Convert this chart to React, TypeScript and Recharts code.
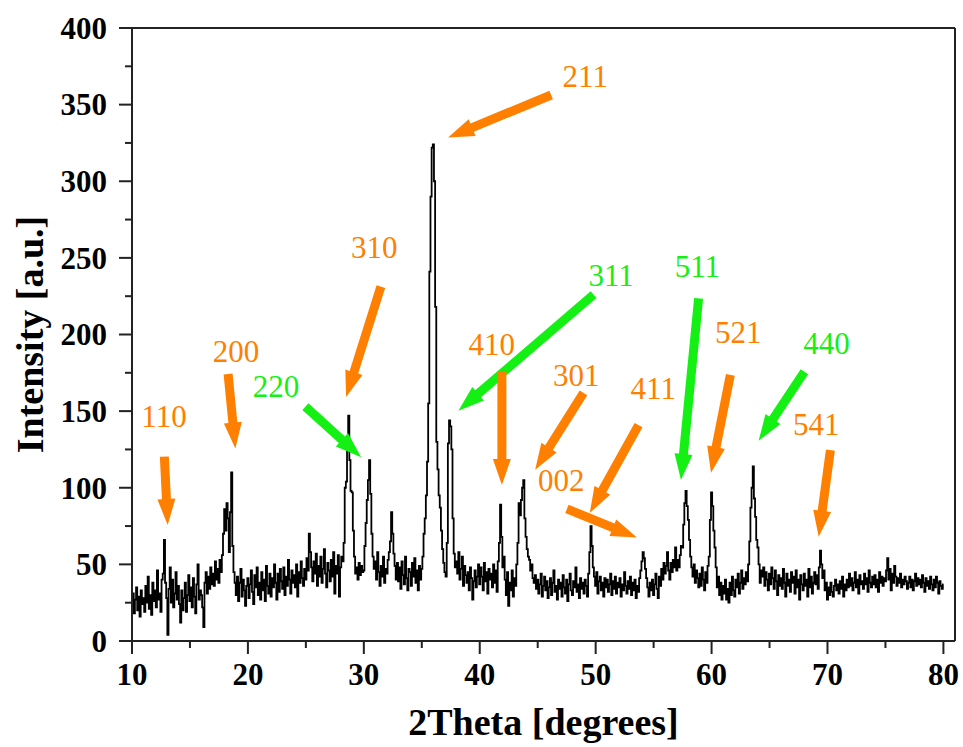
import { LineChart, Line, XAxis, YAxis, ReferenceLine, ReferenceDot, Label } from "recharts"

// XRD scan, 10..80 deg in 0.1 deg steps (one row per degree)
const startAngle = 10
const angleStep = 0.1
const intensity = [
  22, 31, 18, 27, 35, 20, 29, 16, 33, 24,
  28, 19, 36, 25, 42, 21, 30, 17, 38, 26,
  33, 22, 46, 27, 31, 19, 40, 44, 66, 38,
  28, 4, 34, 48, 25, 40, 22, 31, 45, 27,
  36, 24, 12, 33, 20, 28, 38, 19, 30, 43,
  26, 35, 22, 41, 29, 18, 37, 50, 27, 33,
  30, 22, 9, 38, 45, 31, 42, 34, 48, 37,
  44, 36, 52, 40, 47, 38, 53, 45, 56, 70,
  86, 72, 90, 80, 58, 84, 110, 62, 45, 38,
  30, 42, 26, 38, 47, 29, 40, 33, 23, 36,
  41, 28, 37, 46, 32, 24, 43, 35, 48, 30,
  38, 27, 45, 33, 40, 26, 49, 36, 31, 44,
  29, 41, 35, 50, 38, 27, 44, 32, 47, 39,
  34, 48, 30, 42, 36, 53, 40, 31, 46, 38,
  43, 35, 50, 29, 45, 38, 52, 41, 36, 47,
  40, 54, 46, 70, 58, 48, 39, 52, 44, 57,
  36, 49, 42, 55, 38, 47, 60, 44, 35, 51,
  46, 39, 53, 42, 58, 31, 49, 44, 56, 29,
  48, 55, 52, 64, 100, 104, 124, 147, 118, 98,
  97, 72, 55, 44, 48, 40, 51, 43, 49, 45,
  46, 62, 77, 92, 105, 118, 96, 70, 55, 47,
  52, 40, 58, 45, 36, 49, 42, 55, 38, 47,
  44, 53, 58, 65, 84, 70, 57, 49, 40, 51,
  39, 48, 34, 52, 43, 37, 55, 41, 33, 47,
  45, 36, 51, 42, 54, 38, 46, 33, 49, 40,
  47, 55, 70, 80, 95, 117, 155, 241, 290, 322,
  324, 300, 218, 130, 112, 95, 87, 72, 60, 51,
  45, 42, 64, 129, 144, 140, 125, 80, 57, 48,
  52, 44, 58, 40, 47, 55, 36, 49, 43, 38,
  45, 33, 48, 41, 27, 39, 46, 35, 42, 50,
  37, 48, 42, 33, 51, 39, 45, 31, 47, 40,
  44, 35, 50, 38, 46, 32, 52, 64, 89, 68,
  48, 55, 40, 30, 45, 23, 38, 33, 46, 29,
  41, 36, 50, 64, 90, 82, 92, 100, 105, 80,
  68, 60, 55, 53, 46, 50, 41, 38, 43, 34,
  40, 31, 37, 44, 29, 36, 42, 33, 39, 28,
  35, 41, 30, 38, 46, 32, 36, 27, 40, 34,
  38, 29, 43, 35, 31, 40, 26, 37, 44, 33,
  30, 39, 35, 48, 32, 37, 28, 41, 34, 38,
  31, 40, 36, 29, 44, 58, 75, 62, 48, 42,
  36, 45, 31, 39, 42, 33, 38, 29, 41, 35,
  40, 32, 37, 44, 30, 39, 34, 42, 31, 38,
  35, 41, 29, 37, 33, 45, 36, 31, 39, 34,
  42, 30, 38, 33, 40, 28, 36, 32, 41, 46,
  52, 58, 54, 47, 41, 35, 29, 38, 33, 40,
  30, 37, 44, 34, 28, 42, 36, 47, 40, 51,
  44, 49, 58, 46, 40, 51, 45, 53, 48, 61,
  46, 53, 48, 56, 62, 61, 76, 90, 98, 88,
  79, 66, 55, 48, 42, 50, 38, 46, 41, 35,
  44, 36, 48, 40, 33, 45, 38, 49, 55, 79,
  97, 88, 72, 61, 48, 35, 42, 30, 38, 27,
  36, 31, 40, 27, 34, 25, 38, 30, 42, 33,
  29, 40, 35, 44, 31, 38, 46, 34, 41, 37,
  45, 39, 50, 65, 87, 100, 114, 93, 81, 66,
  61, 50, 38, 46, 42, 48, 36, 45, 40, 33,
  44, 37, 48, 41, 34, 46, 39, 30, 43, 36,
  41, 34, 47, 38, 29, 44, 36, 40, 32, 45,
  38, 42, 31, 46, 35, 40, 27, 43, 37, 33,
  44, 36, 40, 29, 47, 35, 42, 31, 38, 45,
  37, 43, 34, 48, 59, 50, 41, 46, 33, 38,
  27, 35, 30, 38, 32, 29, 36, 40, 33, 37,
  31, 39, 34, 42, 29, 37, 33, 40, 35, 44,
  36, 41, 33, 38, 45, 35, 40, 31, 43, 37,
  39, 34, 44, 37, 41, 32, 46, 38, 35, 42,
  37, 43, 35, 40, 32, 45, 38, 42, 36, 41,
  39, 46, 54, 40, 47, 33, 44, 38, 49, 42,
  36, 41, 38, 44, 35, 40, 37, 42, 39, 34,
  38, 42, 35, 40, 33, 39, 44, 36, 41, 37,
  40, 35, 43, 38, 32, 41, 36, 39, 34, 42,
  37, 33, 40, 35, 42, 38, 31, 39, 36, 34,
  37,
]

const xTicks = [10, 15, 20, 25, 30, 35, 40, 45, 50, 55, 60, 65, 70, 75, 80]
const yTicks = [0, 25, 50, 75, 100, 125, 150, 175, 200, 225, 250, 275, 300, 325, 350, 375, 400]

// reflection annotations (o = orange phase, g = green phase)
const reflections = ["110", "200", "220", "310", "211", "311", "410", "301", "002", "411", "511", "521", "440", "541"]
const reflectionPhase = ["o", "o", "g", "o", "o", "g", "o", "o", "o", "o", "g", "o", "g", "o"]
const labelAt = [
  [12.76, 146.8], [18.98, 189.2], [22.43, 166.4], [30.89, 257.1], [49.1, 368.7], [51.34, 238.8], [41.03, 193.4],
  [48.32, 173.6], [47.03, 105.1], [54.97, 165.1], [58.77, 244.7], [62.31, 201.6], [69.92, 194.5], [69.04, 141.6],
]
const arrowFrom = [
  [12.79, 120.3], [18.29, 174.2], [24.96, 152.9], [31.47, 231.2], [46.16, 356.3], [49.82, 226.0], [41.91, 175.5],
  [48.95, 161.9], [47.52, 86.2], [53.7, 140.9], [58.88, 223.6], [61.62, 173.6], [68.01, 175.7], [70.25, 124.6],
]
const arrowTo = [
  [13.08, 75.7], [18.92, 125.6], [29.77, 119.9], [28.47, 159.2], [37.27, 328.5], [38.16, 150.3], [41.91, 101.8],
  [44.78, 111.8], [53.56, 67.5], [49.49, 83.5], [57.36, 105.1], [59.95, 109.8], [64.06, 130.7], [69.24, 68.1],
]

const scan = intensity.map((v, i) => ({
  angle: Math.round((startAngle + i * angleStep) * 10) / 10,
  intensity: v,
}))

const phaseColor: Record<string, string> = { o: "#ff8000", g: "#14f014" }
const axisColor = "#222"
const serif = "'Liberation Serif', 'Times New Roman', serif"

function Arrow(props: any) {
  const { x1, y1, x2, y2, fill } = props
  const dx = x2 - x1
  const dy = y2 - y1
  const len = Math.hypot(dx, dy) || 1
  const ux = dx / len
  const uy = dy / len
  const nx = -uy
  const ny = ux
  const headLen = 26
  const headW = 9
  const shaftW = 4.5
  const bx = x2 - ux * headLen
  const by = y2 - uy * headLen
  const pts = [
    [x1 + nx * shaftW, y1 + ny * shaftW],
    [bx + nx * shaftW, by + ny * shaftW],
    [bx + nx * headW, by + ny * headW],
    [x2, y2],
    [bx - nx * headW, by - ny * headW],
    [bx - nx * shaftW, by - ny * shaftW],
    [x1 - nx * shaftW, y1 - ny * shaftW],
  ]
  return <polygon points={pts.map((p) => p.join(",")).join(" ")} fill={fill} />
}

function XTick({ x, y, payload }: any) {
  const major = payload.value % 10 === 0
  return (
    <g>
      <line x1={x} y1={y} x2={x} y2={y + (major ? 13 : 7)} stroke={axisColor} strokeWidth={2} />
      {major && (
        <text x={x} y={y + 44} textAnchor="middle" style={{ fontFamily: serif, fontWeight: "bold", fontSize: 31 }} fill="#000">
          {payload.value}
        </text>
      )}
    </g>
  )
}

function YTick({ x, y, payload }: any) {
  const major = payload.value % 50 === 0
  return (
    <g>
      <line x1={x} y1={y} x2={x - (major ? 13 : 7)} y2={y} stroke={axisColor} strokeWidth={2} />
      {major && (
        <text x={x - 25} y={y} dy="0.35em" textAnchor="end" style={{ fontFamily: serif, fontWeight: "bold", fontSize: 31 }} fill="#000">
          {payload.value}
        </text>
      )}
    </g>
  )
}

export default function App() {
  return (
    <div style={{ position: "absolute", left: 0, top: 0, width: 963, height: 747, background: "#fff" }}>
      <LineChart width={963} height={747} data={scan} margin={{ top: 28, right: 8, bottom: 0, left: 0 }}>
        <XAxis
          type="number"
          dataKey="angle"
          domain={[10, 81]}
          ticks={xTicks}
          interval={0}
          tickSize={0}
          tickMargin={0}
          tick={<XTick />}
          height={106}
          axisLine={{ stroke: axisColor, strokeWidth: 2 }}
        >
          <Label
            value="2Theta [degrees]"
            position="insideBottom"
            offset={12}
            style={{ fontFamily: serif, fontWeight: "bold", fontSize: 38, fill: "#000" }}
          />
        </XAxis>
        <YAxis
          type="number"
          domain={[0, 400]}
          ticks={yTicks}
          interval={0}
          tickSize={0}
          tickMargin={0}
          tick={<YTick />}
          width={132}
          axisLine={{ stroke: axisColor, strokeWidth: 2 }}
        >
          <Label
            value="Intensity [a.u.]"
            angle={-90}
            position="insideLeft"
            offset={30}
            style={{ fontFamily: serif, fontWeight: "bold", fontSize: 38, fill: "#000", textAnchor: "middle" }}
          />
        </YAxis>
        <ReferenceLine y={400} stroke={axisColor} strokeWidth={2} />
        <ReferenceLine x={81} stroke={axisColor} strokeWidth={2} />
        <Line
          type="step"
          dataKey="intensity"
          stroke="#000"
          strokeWidth={1.8}
          dot={false}
          isAnimationActive={false}
        />
        {reflections.map((r, i) => (
          <ReferenceLine
            key={"a" + r}
            segment={[
              { x: arrowFrom[i][0], y: arrowFrom[i][1] },
              { x: arrowTo[i][0], y: arrowTo[i][1] },
            ]}
            shape={(p: any) => <Arrow {...p} fill={phaseColor[reflectionPhase[i]]} />}
          />
        ))}
        {reflections.map((r, i) => (
          <ReferenceDot
            key={"t" + r}
            x={labelAt[i][0]}
            y={labelAt[i][1]}
            shape={(p: any) => (
              <text
                x={p.cx}
                y={p.cy}
                dy="0.35em"
                textAnchor="middle"
                style={{ fontFamily: serif, fontSize: 31 }}
                fill={phaseColor[reflectionPhase[i]]}
              >
                {r}
              </text>
            )}
          />
        ))}
      </LineChart>
    </div>
  )
}
